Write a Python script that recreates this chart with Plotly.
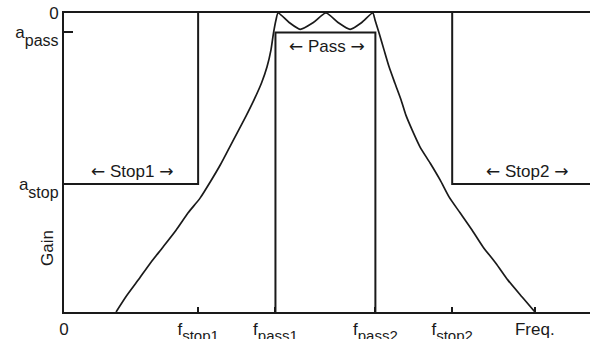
import plotly.graph_objects as go

# ---- data ----
gain_min = -60.0           # bottom of the gain axis (dB, arbitrary units)
freq_max = 10.0            # right end of the frequency axis
a_pass = -3.9
a_stop = -34.3
f_stop1 = 2.55
f_pass1 = 4.02
f_pass2 = 5.92
f_stop2 = 7.38

# filter response curve: rising skirt, pass-band ripple, falling skirt
rise_freq = [0.99, 1.18, 1.41, 1.64, 1.88, 2.13, 2.36, 2.59, 2.78, 2.97,
             3.14, 3.31, 3.46, 3.61, 3.755, 3.86, 3.935, 3.983, 4.03]
rise_gain = [-60.0, -56.9, -53.6, -50.2, -47.0, -43.6, -40.1, -37.1, -33.9, -30.5,
             -27.1, -23.7, -20.7, -17.5, -14.05, -10.8, -7.4, -4.0, -1.4]
ripple_freq = [4.07, 4.28, 4.49, 4.74, 4.98, 5.21, 5.44, 5.66, 5.87]
ripple_gain = [0.0, -1.9, -3.27, -1.9, 0.0, -1.9, -3.27, -1.9, 0.0]
fall_freq = [5.913, 5.99, 6.084, 6.18, 6.29, 6.41, 6.50, 6.62, 6.77, 6.96,
             7.15, 7.32, 7.53, 7.76, 7.97, 8.21, 8.44, 8.71, 8.954]
fall_gain = [-1.4, -4.0, -7.4, -10.8, -14.05, -17.5, -20.5, -23.5, -26.9, -30.1,
             -33.5, -36.9, -40.1, -43.6, -47.0, -50.2, -53.6, -57.0, -60.0]

x_tickvals = [0, f_stop1, f_pass1, f_pass2, f_stop2, 8.95]
SUBX = "<span style='font-size:15px;baseline-shift:-6px'>{}</span>"
SUBY = "<span style='font-size:16px;baseline-shift:-8px'>{}</span>"
x_ticktext = ["0", "f" + SUBX.format("stop1"), "f" + SUBX.format("pass1"),
              "f" + SUBX.format("pass2"), "f" + SUBX.format("stop2"), "Freq."]
y_tickvals = [0, a_pass, a_stop]
y_ticktext = ["0", "a" + SUBY.format("pass"), "a" + SUBY.format("stop")]

ARW_L = "<span style='font-family:DejaVu Sans'>\u2190</span>"
ARW_R = "<span style='font-family:DejaVu Sans'>\u2192</span>"
band_names = ["Stop1", "Pass", "Stop2"]
band_label_x = [1.30, 5.00, 8.81]
band_label_y = [-31.8, -6.7, -31.8]

INK = "#1a1a1a"
FONT = "Liberation Sans, Arial, Helvetica, sans-serif"

curve_freq = rise_freq + ripple_freq + fall_freq
curve_gain = rise_gain + ripple_gain + fall_gain

fig = go.Figure()

# response curve
fig.add_trace(go.Scatter(x=curve_freq, y=curve_gain, mode="lines",
                         line=dict(color=INK, width=1.7, shape="spline", smoothing=0.6),
                         hoverinfo="skip", showlegend=False))
# stop band 1 mask
fig.add_trace(go.Scatter(x=[0, f_stop1, f_stop1], y=[a_stop, a_stop, 0], mode="lines",
                         line=dict(color=INK, width=2), hoverinfo="skip", showlegend=False))
# pass band mask
fig.add_trace(go.Scatter(x=[f_pass1, f_pass1, f_pass2, f_pass2],
                         y=[gain_min, a_pass, a_pass, gain_min], mode="lines",
                         line=dict(color=INK, width=2), hoverinfo="skip", showlegend=False))
# stop band 2 mask
fig.add_trace(go.Scatter(x=[f_stop2, f_stop2, freq_max], y=[0, a_stop, a_stop], mode="lines",
                         line=dict(color=INK, width=2), hoverinfo="skip", showlegend=False))

for name, x, y in zip(band_names, band_label_x, band_label_y):
    fig.add_annotation(x=x, y=y, text=ARW_L + " " + name + " " + ARW_R, showarrow=False,
                       xanchor="center", yanchor="middle",
                       font=dict(family=FONT, size=17, color=INK))

fig.add_annotation(xref="paper", yref="paper", x=-0.0323, y=0.214, text="Gain",
                   textangle=-90, showarrow=False, xanchor="center", yanchor="middle",
                   font=dict(family=FONT, size=17, color=INK))

fig.update_layout(
    width=590, height=339,
    margin=dict(l=64, r=0, t=13, b=27, autoexpand=False),
    paper_bgcolor="white", plot_bgcolor="white",
    font=dict(family=FONT, size=17, color=INK),
    xaxis=dict(range=[0, freq_max], showgrid=False, zeroline=False, automargin=False,
               showline=True, linecolor=INK, linewidth=2, mirror=True,
               ticks="inside", ticklen=5, tickwidth=1.5, tickcolor=INK,
               tickvals=x_tickvals, ticktext=x_ticktext, ticklabelstandoff=1,
               tickfont=dict(family=FONT, size=17, color=INK)),
    yaxis=dict(range=[gain_min, 0], showgrid=False, zeroline=False, automargin=False,
               showline=True, linecolor=INK, linewidth=2,
               ticks="inside", ticklen=9, tickwidth=1.5, tickcolor=INK,
               tickvals=y_tickvals, ticktext=y_ticktext,
               tickfont=dict(family=FONT, size=17, color=INK)),
)

fig.write_html("out.html")
